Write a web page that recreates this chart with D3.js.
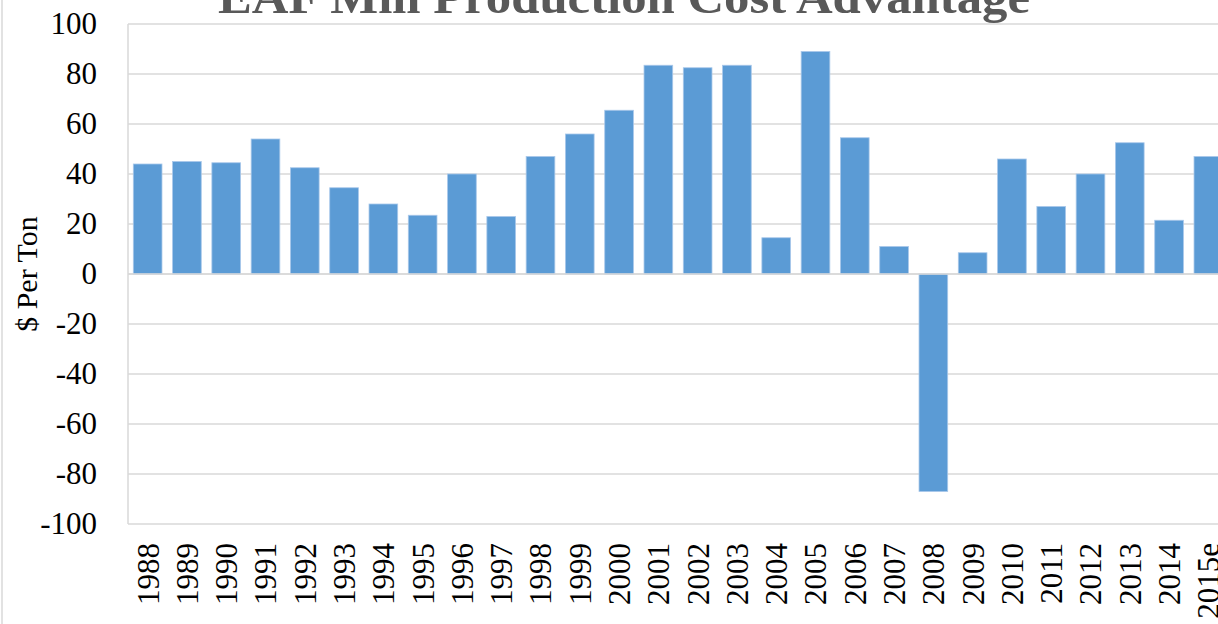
<!DOCTYPE html>
<html>
<head>
<meta charset="utf-8">
<script src="https://d3js.org/d3.v7.min.js"></script>
<style>
  body { margin: 0; background: #fff; }
  text { font-family: "Liberation Serif", "Times New Roman", serif; }
</style>
</head>
<body>
<svg width="1218" height="624"></svg>
<script>
const years = ["1988","1989","1990","1991","1992","1993","1994","1995","1996","1997","1998","1999","2000","2001","2002","2003","2004","2005","2006","2007","2008","2009","2010","2011","2012","2013","2014","2015e"];
const advantage = [44,45,44.5,54,42.5,34.5,28,23.5,40,23,47,56,65.5,83.5,82.5,83.5,14.5,89,54.5,11,-87,8.5,46,27,40,52.5,21.5,47];
const yTicks = [-100,-80,-60,-40,-20,0,20,40,60,80,100];

const svg = d3.select("svg");
const mLeft = 128, mTop = 24, plotW = 1100, plotH = 500;

const x = d3.scaleBand().domain(years).range([mLeft, mLeft + plotW]).paddingInner(0.27).paddingOuter(0.135);
const y = d3.scaleLinear().domain([-100, 100]).range([mTop + plotH, mTop]);

// chart frame edge
svg.append("line").attr("x1", 2).attr("x2", 2).attr("y1", 0).attr("y2", 624)
  .attr("stroke", "#d9d9d9").attr("stroke-width", 1.5);

// gridlines
svg.append("g").selectAll("line").data(yTicks).enter().append("line")
  .attr("x1", mLeft).attr("x2", 1218)
  .attr("y1", d => y(d)).attr("y2", d => y(d))
  .attr("stroke", "#d9d9d9").attr("stroke-width", 1.5);

// value axis line
svg.append("line").attr("x1", mLeft).attr("x2", mLeft).attr("y1", y(100)).attr("y2", y(-100))
  .attr("stroke", "#d9d9d9").attr("stroke-width", 1.5);

// bars
svg.append("g").selectAll("rect").data(advantage).enter().append("rect")
  .attr("x", (d, i) => x(years[i]))
  .attr("width", x.bandwidth())
  .attr("y", d => y(Math.max(0, d)))
  .attr("height", d => Math.abs(y(d) - y(0)))
  .attr("fill", "#5b9bd5")
  .attr("stroke", "#a9c8ea").attr("stroke-width", 0.8);

// zero line on top
svg.append("line").attr("x1", mLeft).attr("x2", 1218).attr("y1", y(0)).attr("y2", y(0))
  .attr("stroke", "#d9d9d9").attr("stroke-width", 1.5);

// y axis labels (plain hyphen for negatives, as in the original)
const yAxis = d3.axisLeft(y).tickValues(yTicks).tickSize(0).tickPadding(31)
  .tickFormat(d => String(d));
const ya = svg.append("g").attr("transform", "translate(" + mLeft + ",0)").call(yAxis);
ya.select(".domain").remove();
ya.selectAll("text").attr("font-family", "Liberation Serif, serif").attr("font-size", 31).attr("fill", "#000");

// x axis labels (rotated)
const xAxis = d3.axisBottom(x).tickSize(0);
const xa = svg.append("g").attr("transform", "translate(0," + y(-100) + ")").call(xAxis);
xa.select(".domain").remove();
xa.selectAll("text")
  .attr("font-family", "Liberation Serif, serif").attr("font-size", 31).attr("fill", "#000")
  .attr("text-anchor", "end")
  .attr("transform", "rotate(-90)")
  .attr("x", -19).attr("y", 0).attr("dy", "0.35em");

// axis title
svg.append("text")
  .attr("transform", "translate(37," + y(0) + ") rotate(-90)")
  .attr("text-anchor", "middle")
  .attr("font-size", 30).attr("fill", "#000")
  .text("$ Per Ton");

// chart title (cut off at top, as in the original)
svg.append("text")
  .attr("x", 624).attr("y", 13)
  .attr("text-anchor", "middle")
  .attr("font-size", 46).attr("font-weight", "bold").attr("fill", "#595959")
  .attr("textLength", 812).attr("lengthAdjust", "spacingAndGlyphs")
  .text("EAF Mill Production Cost Advantage");
</script>
</body>
</html>
